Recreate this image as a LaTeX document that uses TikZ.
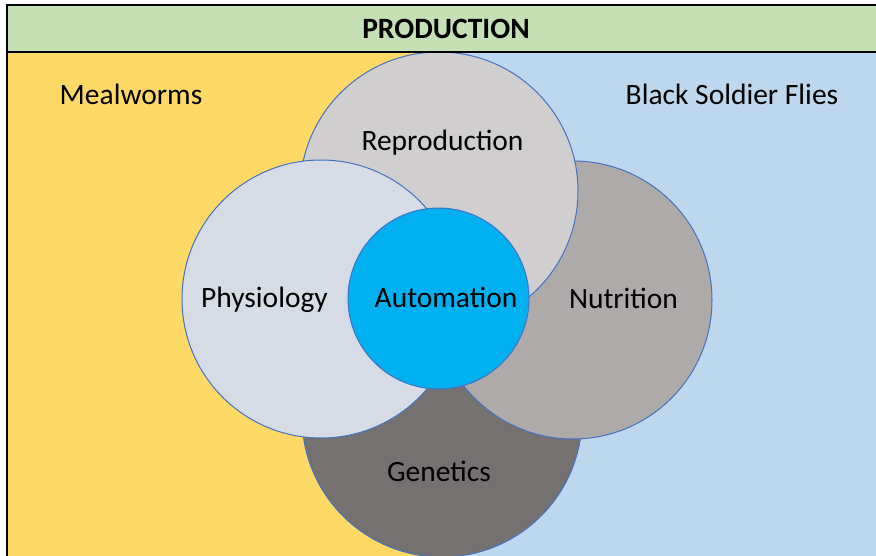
\documentclass[tikz,border=0pt]{standalone}
\usepackage{fontspec}
\setmainfont{Carlito}
\definecolor{mealyellow}{HTML}{FFD966}
\definecolor{bsfblue}{HTML}{BDD7EE}
\definecolor{headgreen}{HTML}{C5E0B4}
\definecolor{reprogray}{HTML}{D0CECE}
\definecolor{physiogray}{HTML}{D6DCE5}
\definecolor{nutrigray}{HTML}{AEAAAA}
\definecolor{genegray}{HTML}{767171}
\definecolor{autoblue}{HTML}{00B0F0}
\definecolor{ringblue}{HTML}{4472C4}
\begin{document}
\begin{tikzpicture}[x=1pt,y=-1pt,
  lbl/.style={font=\fontsize{29.5}{35}\selectfont, anchor=base, inner sep=0pt, text=black},
  disc/.style={circle, draw=ringblue, line width=1pt, inner sep=0pt},
  frameline/.style={line width=2.5pt, draw=black}]
\useasboundingbox (0,0) rectangle (876,556);
\clip (0,0) rectangle (876,556);

% two halves of the field and the header band
\fill[mealyellow] (7,52) rectangle (440,560);
\fill[bsfblue] (440,52) rectangle (880,560);
\fill[headgreen] (7,5) rectangle (880,52);

% overlapping discs, back to front
\node[disc, fill=genegray,   minimum size=280pt] (genetics) at (442,417) {};
\node[disc, fill=nutrigray,  minimum size=278pt] (nutrition) at (573,300) {};
\node[disc, fill=reprogray,  minimum size=278pt] (reproduction) at (439,191) {};
\node[disc, fill=physiogray, minimum size=278pt] (physiology) at (321,299) {};
\node[disc, fill=autoblue,   minimum size=181pt] (automation) at (438.5,298.5) {};

% frame lines
\draw[frameline] (880,5) -- (7,5) -- (7,560);
\draw[frameline] (7,52) -- (880,52);

% labels
\node[lbl, font=\fontsize{29.5}{35}\selectfont\bfseries] (title) at (446,38.5) {PRODUCTION};
\node[lbl] (mealworms) at (131,105) {Mealworms};
\node[lbl] (bsf) at (732,105) {Black Soldier Flies};
\node[lbl] (reprotext) at (442.5,150.5) {Reproduction};
\node[lbl] (physiotext) at (264.5,308) {Physiology};
\node[lbl] (autotext) at (446,308) {Automation};
\node[lbl] (nutritext) at (623.5,308.5) {Nutrition};
\node[lbl] (genetext) at (439,481.5) {Genetics};
\end{tikzpicture}
\end{document}
